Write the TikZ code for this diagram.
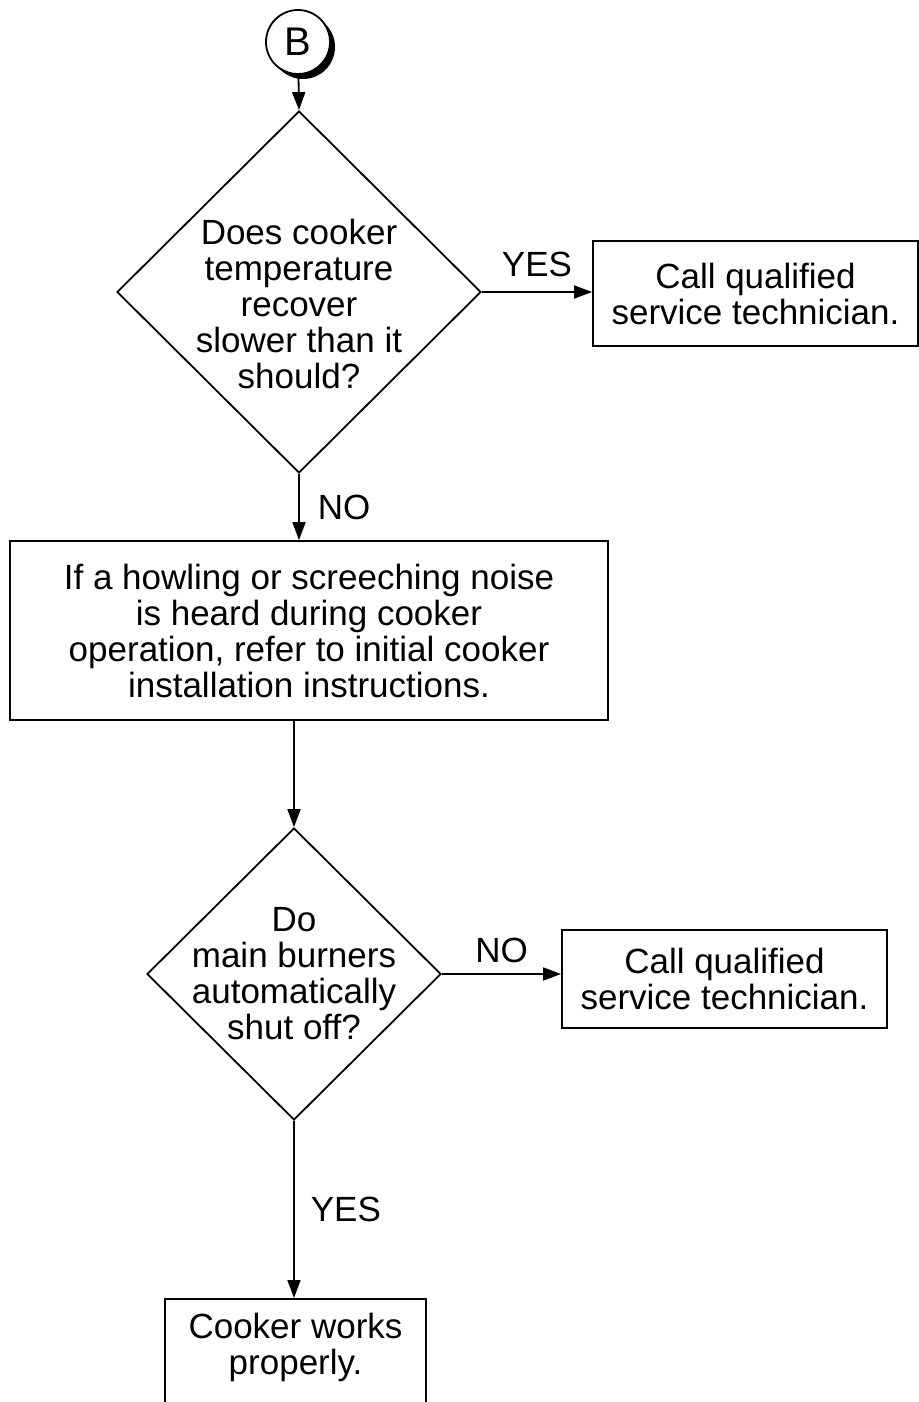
\documentclass[tikz,border=0pt]{standalone}
\usepackage{fontspec}
\setmainfont{Liberation Sans}
\usetikzlibrary{shapes.geometric, positioning, arrows.meta, shadows}

\newcommand{\chartfont}{\fontsize{35}{36}\selectfont}

\begin{document}
\begin{tikzpicture}[
x=1pt, y=-1pt,
    box/.style={rectangle, draw, line width=1.8pt, align=center, font=\chartfont, inner sep=0pt},
    decision/.style={diamond, draw, line width=1.8pt, inner sep=0pt, aspect=1},
    qtext/.style={align=center, inner sep=0pt, font=\chartfont},
    connector/.style={circle, draw, line width=1.8pt, fill=white, minimum size=64pt, inner sep=0pt, font=\fontsize{40}{40}\selectfont, general shadow={fill=black, shadow xshift=5pt, shadow yshift=-5pt}},
    lbl/.style={inner sep=0pt, font=\chartfont},
    line/.style={draw, line width=1.8pt, -{Triangle[length=18pt, width=13pt]}}
]
    \useasboundingbox (0,0) rectangle (918,1402);

    % --- Entry point ---
    \node[connector] (conb) at (298,42) {B};

    % --- First question ---
    \node[decision, minimum width=364pt, minimum height=362pt,
          label={[qtext, yshift=-12pt]center:{Does cooker\\temperature\\recover\\slower than it\\should?}}] (recover) at (299,292) {};
    \node[box, minimum width=325pt, minimum height=105pt] (call1) at (755.5,293.5)
        {Call qualified\\service technician.};

    \draw[line] (conb) -- (recover.north);
    \draw[line] (recover.east) -- (recover.east -| call1.west) node[lbl, midway, above=14pt] {YES};

    % --- Noise check ---
    \node[box, minimum width=598pt, minimum height=179pt] (noise) at (309,630.5)
        {If a howling or screeching noise\\is heard during cooker\\operation, refer to initial cooker\\installation instructions.};
    \draw[line] (recover.south) -- (recover.south |- noise.north) node[lbl, midway, right=18pt] {NO};

    % --- Second question ---
    \node[decision, minimum width=294pt, minimum height=292pt,
          label={[qtext]center:{Do\\main burners\\automatically\\shut off?}}] (shutoff) at (294,974) {};
    \node[box, minimum width=325pt, minimum height=98pt] (call2) at (724.5,979)
        {Call qualified\\service technician.};

    \draw[line] (shutoff.north |- noise.south) -- (shutoff.north);
    \draw[line] (shutoff.east) -- (shutoff.east -| call2.west) node[lbl, midway, above=10pt] {NO};

    % --- Result (runs off the page) ---
    \node[box, minimum width=261pt, anchor=north, inner ysep=14pt, text depth=70pt] (works) at (295.5,1298)
        {Cooker works\\properly.};
    \draw[line] (shutoff.south) -- (shutoff.south |- works.north) node[lbl, midway, right=16pt] {YES};

\end{tikzpicture}
\end{document}
